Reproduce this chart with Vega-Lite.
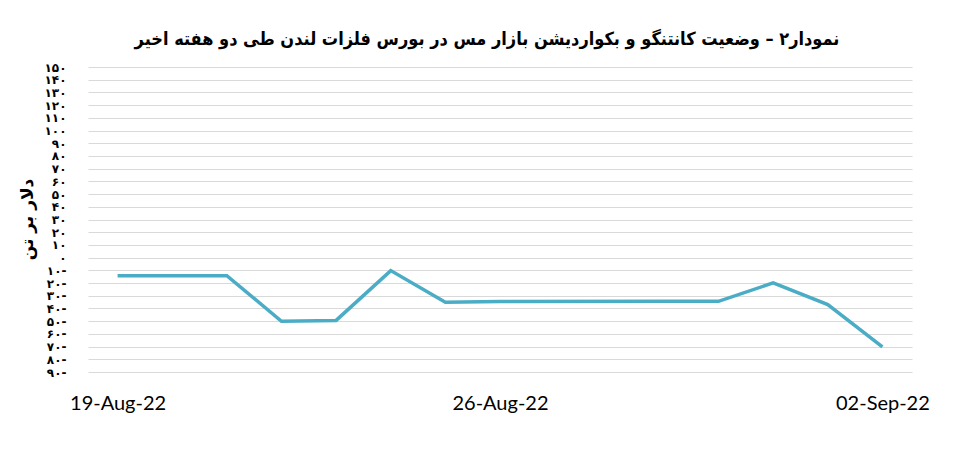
{
  "$schema": "https://vega.github.io/schema/vega-lite/v6.json",
  "width": 824,
  "height": 305,
  "autosize": {"type": "none"},
  "padding": {"left": 88, "top": 67, "right": 41, "bottom": 83},
  "background": "white",
  "title": {
    "text": "نمودار۲ – وضعیت کانتنگو و بکواردیشن بازار مس در بورس فلزات لندن طی دو هفته اخیر",
    "font": "DejaVu Sans Condensed",
    "fontSize": 18,
    "fontWeight": "bold",
    "color": "#000000",
    "anchor": "middle",
    "dx": -13,
    "offset": 12
  },
  "data": {
    "values": [
      {"date": "2022-08-19", "spread": -14.2},
      {"date": "2022-08-21", "spread": -14.2},
      {"date": "2022-08-22", "spread": -50.1},
      {"date": "2022-08-23", "spread": -49.4},
      {"date": "2022-08-24", "spread": -10.2},
      {"date": "2022-08-25", "spread": -35.2},
      {"date": "2022-08-26", "spread": -34.5},
      {"date": "2022-08-29", "spread": -34.4},
      {"date": "2022-08-30", "spread": -34.4},
      {"date": "2022-08-31", "spread": -19.9},
      {"date": "2022-09-01", "spread": -37.0},
      {"date": "2022-09-02", "spread": -70.3}
    ]
  },
  "mark": {"type": "line", "color": "#4BACC6", "strokeWidth": 3.5, "strokeJoin": "miter"},
  "encoding": {
    "x": {
      "field": "date",
      "type": "temporal",
      "scale": {
        "type": "utc",
        "domain": [
          {"year": 2022, "month": 8, "date": 18, "hours": 11, "utc": true},
          {"year": 2022, "month": 9, "date": 2, "hours": 13, "utc": true}
        ]
      },
      "axis": {
        "title": null,
        "values": [
          {"year": 2022, "month": 8, "date": 19, "utc": true},
          {"year": 2022, "month": 8, "date": 26, "utc": true},
          {"year": 2022, "month": 9, "date": 2, "utc": true}
        ],
        "format": "%d-%b-%y",
        "grid": false,
        "ticks": false,
        "domain": false,
        "labelFont": "Lato",
        "labelFontSize": 20,
        "labelColor": "#000000",
        "labelPadding": 21
      }
    },
    "y": {
      "field": "spread",
      "type": "quantitative",
      "scale": {"domain": [-90, 150], "nice": false, "zero": false},
      "axis": {
        "title": "دلار بر تن",
        "titleFont": "DejaVu Sans",
        "titleFontSize": 17,
        "titleFontWeight": "bold",
        "titleColor": "#000000",
        "titleX": -52,
        "titleY": 152,
        "values": [-90, -80, -70, -60, -50, -40, -30, -20, -10, 0, 10, 20, 30, 40, 50, 60, 70, 80, 90, 100, 110, 120, 130, 140, 150],
        "labelExpr": "replace(replace(replace(replace(replace(replace(replace(replace(replace(replace(format(abs(datum.value),'d'),regexp('0','g'),'۰'),regexp('1','g'),'۱'),regexp('2','g'),'۲'),regexp('3','g'),'۳'),regexp('4','g'),'۴'),regexp('5','g'),'۵'),regexp('6','g'),'۶'),regexp('7','g'),'۷'),regexp('8','g'),'۸'),regexp('9','g'),'۹') + (datum.value < 0 ? '-' : '')",
        "labelFont": "DejaVu Sans",
        "labelFontSize": 12,
        "labelFontWeight": "bold",
        "labelColor": "#000000",
        "labelPadding": 22,
        "labelOverlap": false,
        "ticks": false,
        "domain": false,
        "gridColor": "#d9d9d9",
        "gridWidth": 1
      }
    }
  },
  "config": {"view": {"stroke": null}}
}
